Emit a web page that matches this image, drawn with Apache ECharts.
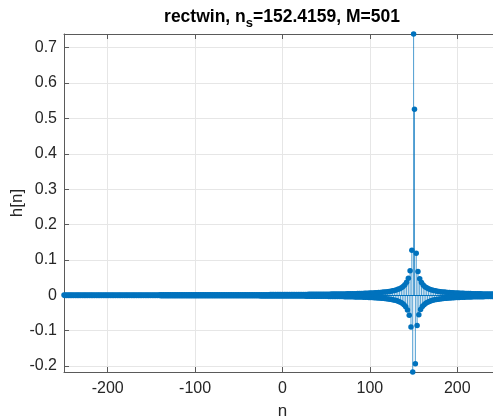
<!DOCTYPE html>
<html>
<head>
<meta charset="utf-8">
<script src="https://cdn.jsdelivr.net/npm/echarts@6/dist/echarts.min.js"></script>
<style>html,body{margin:0;padding:0;background:#fff}#c{width:493px;height:419px}</style>
</head>
<body>
<div id="c"></div>
<script>
// ---- data ----
const titleMain = 'rectwin, n';
const titleSub = 's';
const titleRest = '=152.4159, M=501';
const xLabel = 'n';
const yLabel = 'h[n]';
const nFirst = -250;   // first sample index (n = -250 ... 250)
const xRange = [-250, 250];
const yRange = [-0.217, 0.7388];

// h[n], one value per sample from n = -250 to n = 250
const hValues = [
// n = -250 .. -209
0.0008,-0.0008,0.0008,-0.0008,0.0008,-0.0008,0.0008,-0.0008,0.0008,-0.0008,0.0008,-0.0008,0.0008,-0.0008,
0.0008,-0.0008,0.0008,-0.0008,0.0008,-0.0008,0.0008,-0.0008,0.0008,-0.0008,0.0008,-0.0008,0.0008,-0.0008,
0.0008,-0.0008,0.0008,-0.0008,0.0008,-0.0008,0.0008,-0.0008,0.0008,-0.0008,0.0008,-0.0008,0.0008,-0.0008,
// n = -208 .. -171
0.0009,-0.0009,0.0009,-0.0009,0.0009,-0.0009,0.0009,-0.0009,0.0009,-0.0009,0.0009,-0.0009,0.0009,-0.0009,
0.0009,-0.0009,0.0009,-0.0009,0.0009,-0.0009,0.0009,-0.0009,0.0009,-0.0009,0.0009,-0.0009,0.0009,-0.0009,
0.0009,-0.0009,0.0009,-0.0009,0.0009,-0.0009,0.0009,-0.0009,0.0009,-0.0009,
// n = -170 .. -141
0.001,-0.001,0.001,-0.001,0.001,-0.001,0.001,-0.001,0.001,-0.001,0.001,-0.001,0.001,-0.001,
0.001,-0.001,0.001,-0.001,0.001,-0.001,0.001,-0.001,0.001,-0.001,0.001,-0.001,0.001,-0.001,0.001,-0.001,
// n = -140 .. -115
0.0011,-0.0011,0.0011,-0.0011,0.0011,-0.0011,0.0011,-0.0011,0.0011,-0.0011,0.0011,-0.0011,0.0011,-0.0011,
0.0011,-0.0011,0.0011,-0.0011,0.0011,-0.0011,0.0011,-0.0011,0.0011,-0.0011,
// n = -114 .. -94
0.0012,-0.0012,0.0012,-0.0012,0.0012,-0.0012,0.0012,-0.0012,0.0012,-0.0012,
0.0012,-0.0012,0.0012,-0.0012,0.0012,-0.0012,0.0012,-0.0012,0.0012,-0.0012,0.0012,
// n = -93 .. -76
-0.0013,0.0013,-0.0013,0.0013,-0.0013,0.0013,-0.0013,0.0013,-0.0013,0.0013,
-0.0013,0.0013,-0.0013,0.0013,-0.0013,0.0013,-0.0013,0.0013,
// n = -75 .. -60
-0.0014,0.0014,-0.0014,0.0014,-0.0014,0.0014,-0.0014,0.0014,
-0.0014,0.0014,-0.0014,0.0014,-0.0014,0.0014,-0.0014,0.0014,
// n = -59 .. -46
-0.0015,0.0015,-0.0015,0.0015,-0.0015,0.0015,-0.0015,0.0015,-0.0015,0.0015,-0.0015,0.0015,-0.0015,0.0015,
// n = -45 .. -34
-0.0016,0.0016,-0.0016,0.0016,-0.0016,0.0016,-0.0016,0.0016,-0.0016,0.0016,-0.0016,0.0016,
// n = -33 .. -24
-0.0017,0.0017,-0.0017,0.0017,-0.0017,0.0017,-0.0017,0.0017,-0.0017,0.0017,
// n = -23 .. -14
-0.0018,0.0018,-0.0018,0.0018,-0.0018,0.0018,-0.0018,0.0018,-0.0018,0.0018,
// n = -13 .. -6
-0.0019,0.0019,-0.0019,0.0019,-0.0019,0.0019,-0.0019,0.0019,
// n = -5 .. 2
-0.002,0.002,-0.002,0.002,-0.002,0.002,-0.002,0.002,
// n = 3 .. 9
-0.0021,0.0021,-0.0021,0.0021,-0.0021,0.0021,-0.0021,
// n = 10 .. 15
0.0022,-0.0022,0.0022,-0.0022,0.0022,-0.0022,
// n = 16 .. 21
0.0023,-0.0023,0.0023,-0.0023,0.0023,-0.0023,
// n = 22 .. 27
0.0024,-0.0024,0.0024,-0.0024,0.0024,-0.0024,
// n = 28 .. 31
0.0025,-0.0025,0.0025,-0.0025,
// n = 32 .. 36
0.0026,-0.0026,0.0026,-0.0026,0.0026,
// n = 37 .. 48
-0.0027,0.0027,-0.0027,0.0027,
-0.0028,0.0028,-0.0028,0.0028,
-0.0029,0.0029,-0.0029,0.0029,
// n = 49 .. 63
-0.003,0.003,-0.003,
0.0031,-0.0031,0.0031,
-0.0032,0.0032,-0.0032,
0.0033,-0.0033,0.0033,
-0.0034,0.0034,-0.0034,
// n = 64 .. 76
0.0035,-0.0035,
0.0036,-0.0036,0.0036,
-0.0037,0.0037,
-0.0038,0.0038,
-0.0039,0.0039,
-0.004,0.004,
// n = 77 .. 100
-0.0041,0.0041,-0.0042,0.0042,-0.0043,0.0044,-0.0044,0.0045,-0.0046,0.0046,-0.0047,0.0048,
-0.0048,0.0049,-0.005,0.0051,-0.0052,0.0053,-0.0054,0.0054,-0.0055,0.0056,-0.0058,0.0059,
// n = 101 .. 120
-0.006,0.0061,-0.0062,0.0063,-0.0065,0.0066,-0.0068,0.0069,-0.0071,0.0072,
-0.0074,0.0076,-0.0078,0.008,-0.0082,0.0084,-0.0087,0.0089,-0.0092,0.0095,
// n = 121 .. 140
-0.0098,0.0101,-0.0104,0.0108,-0.0112,0.0116,-0.0121,0.0126,-0.0131,0.0137,
-0.0143,0.015,-0.0158,0.0167,-0.0176,0.0187,-0.0199,0.0213,-0.0229,0.0247,
// n = 141 .. 151
-0.0269,0.0295,-0.0326,0.0365,-0.0414,0.0479,-0.0567,0.0696,-0.0899,0.1272,-0.217,
// n = 152
0.7388,
// n = 153 .. 160
0.5261,-0.194,0.1189,-0.0857,0.067,-0.055,0.0467,-0.0405,
// n = 161 .. 180
0.0358,-0.0321,0.029,-0.0265,0.0244,-0.0226,0.0211,-0.0197,0.0185,-0.0175,
0.0165,-0.0157,0.0149,-0.0142,0.0136,-0.013,0.0125,-0.012,0.0116,-0.0111,
// n = 181 .. 200
0.0108,-0.0104,0.0101,-0.0097,0.0094,-0.0092,0.0089,-0.0086,0.0084,-0.0082,
0.008,-0.0078,0.0076,-0.0074,0.0072,-0.0071,0.0069,-0.0067,0.0066,-0.0065,
// n = 201 .. 220
0.0063,-0.0062,0.0061,-0.006,0.0058,-0.0057,0.0056,-0.0055,0.0054,-0.0053,
0.0052,-0.0052,0.0051,-0.005,0.0049,-0.0048,0.0048,-0.0047,0.0046,-0.0045,
// n = 221 .. 240
0.0045,-0.0044,0.0044,-0.0043,0.0042,-0.0042,0.0041,-0.0041,0.004,-0.004,
0.0039,-0.0039,0.0038,-0.0038,0.0037,-0.0037,0.0036,-0.0036,0.0035,-0.0035,
// n = 241 .. 250
0.0035,-0.0034,0.0034,-0.0034,0.0033,-0.0033,0.0032,-0.0032,0.0032,-0.0031
];

// ---- chart ----
const FONT = '"Liberation Sans", Arial, Helvetica, sans-serif';
const BLUE = '#0072BD';
const AXIS = '#5a5a5a';
const TXT = '#262626';

const points = hValues.map((h, i) => [nFirst + i, h]);

const chart = echarts.init(document.getElementById('c'), null, {renderer: 'canvas'});
chart.setOption({
  animation: false,
  backgroundColor: '#ffffff',
  textStyle: {fontFamily: FONT},
  title: {
    left: 282, top: 4, textAlign: 'center', padding: 0,
    text: '{b|' + titleMain + '}{s|' + titleSub + '}{b|' + titleRest + '}',
    textStyle: {
      rich: {
        b: {fontSize: 17.5, fontWeight: 'bold', color: '#000', fontFamily: FONT, lineHeight: 26, verticalAlign: 'middle'},
        s: {fontSize: 13, fontWeight: 'bold', color: '#000', fontFamily: FONT, lineHeight: 11, verticalAlign: 'bottom'}
      }
    }
  },
  grid: {left: 64, top: 34, right: -8, bottom: 47, containLabel: false, outerBoundsMode: 'none'},
  xAxis: [{
    type: 'value', min: xRange[0], max: xRange[1], splitNumber: 5, position: 'bottom',
    axisLine: {show: true, onZero: false, lineStyle: {color: AXIS, width: 1}},
    axisTick: {show: true, inside: true, length: 5, lineStyle: {color: AXIS}},
    axisLabel: {showMinLabel: false, showMaxLabel: false, color: TXT, fontSize: 16, margin: 9, fontFamily: FONT},
    splitLine: {show: true, lineStyle: {color: '#e6e6e6', width: 1}},
    name: xLabel, nameLocation: 'middle', nameGap: 31, nameMoveOverlap: false,
    nameTextStyle: {fontSize: 17, color: TXT, fontFamily: FONT}
  }, {
    type: 'value', min: xRange[0], max: xRange[1], splitNumber: 5, position: 'top',
    axisLine: {show: true, onZero: false, lineStyle: {color: AXIS, width: 1}},
    axisTick: {show: true, inside: true, length: 5, lineStyle: {color: AXIS}},
    axisLabel: {show: false},
    splitLine: {show: false}
  }],
  yAxis: [{
    type: 'value', min: yRange[0], max: yRange[1], splitNumber: 10,
    axisLine: {show: true, onZero: false, lineStyle: {color: AXIS, width: 1}},
    axisTick: {show: true, inside: true, length: 5, lineStyle: {color: AXIS}},
    axisLabel: {showMinLabel: false, showMaxLabel: false, color: TXT, fontSize: 16, margin: 7, fontFamily: FONT, padding: [4, 0, 0, 0]},
    splitLine: {show: true, lineStyle: {color: '#e6e6e6', width: 1}},
    name: yLabel, nameLocation: 'middle', nameGap: 38, nameRotate: 90, nameMoveOverlap: false,
    nameTextStyle: {fontSize: 17, color: TXT, fontFamily: FONT}
  }],
  series: [{
    type: 'custom',
    data: points,
    encode: {x: 0, y: 1},
    clip: false,
    silent: true,
    z: 2,
    renderItem: function (params, api) {
      const x = api.value(0), y = api.value(1);
      const p0 = api.coord([x, 0]);
      const p1 = api.coord([x, y]);
      return {
        type: 'line',
        shape: {x1: p0[0], y1: p0[1], x2: p1[0], y2: p1[1]},
        style: {stroke: BLUE, lineWidth: 0.7}
      };
    }
  }, {
    type: 'scatter',
    data: points,
    symbol: 'circle',
    symbolSize: 5.5,
    clip: false,
    silent: true,
    z: 4,
    itemStyle: {color: BLUE, opacity: 1},
    markLine: {
      silent: true,
      symbol: ['none', 'none'],
      label: {show: false},
      lineStyle: {color: BLUE, width: 1, type: 'solid'},
      data: [{yAxis: 0}]
    }
  }]
});
</script>
</body>
</html>
